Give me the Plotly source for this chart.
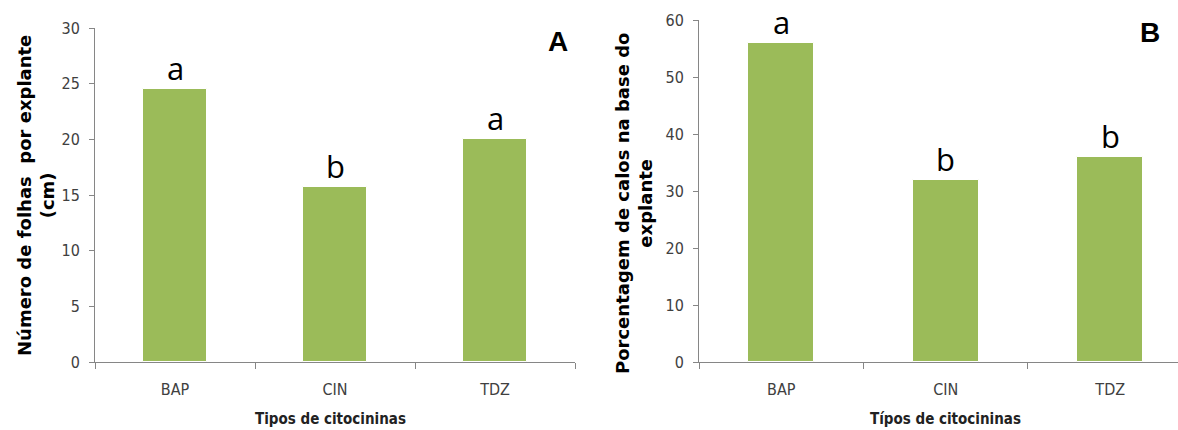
import plotly.graph_objects as go

# Data
categories = ["BAP", "CIN", "TDZ"]
folhas = [24.5, 15.7, 20.0]          # Número de folhas por explante
folhas_letters = ["a", "b", "a"]
calos = [56.0, 32.0, 36.0]           # Porcentagem de calos na base do explante
calos_letters = ["a", "b", "b"]

W, H = 1178, 430
BAR = "#9BBB59"
AXIS = "#868686"
TICK_FONT = dict(family="DejaVu Sans Condensed, Arial Narrow, sans-serif", size=16, color="#404040")
TITLE_FONT = dict(family="Verdana, DejaVu Sans, sans-serif", size=18, color="black", weight="bold")
NARROW_BOLD = dict(family="DejaVu Sans Condensed, Arial Narrow, sans-serif", size=15, color="#222", weight="bold")
LETTER_FONT = dict(family="Open Sans, Calibri, sans-serif", size=31, color="black")


def px(x):
    return x / W


def py(y):
    return 1 - y / H


fig = go.Figure()
fig.add_trace(go.Bar(x=categories, y=folhas, width=0.4, marker=dict(color=BAR, line=dict(color="white", width=1)),
                     xaxis="x", yaxis="y", showlegend=False, hoverinfo="skip"))
fig.add_trace(go.Bar(x=categories, y=calos, width=0.4, marker=dict(color=BAR, line=dict(color="white", width=1)),
                     xaxis="x2", yaxis="y2", showlegend=False, hoverinfo="skip"))

common_x = dict(type="category", showline=True, linecolor=AXIS, linewidth=1, ticks="outside",
                tickson="boundaries", ticklen=6, tickcolor=AXIS, tickfont=TICK_FONT,
                ticklabelstandoff=13, showgrid=False, zeroline=False, fixedrange=True, automargin=False)
common_y = dict(showline=True, linecolor=AXIS, linewidth=1, ticks="outside", ticklen=5, tickcolor=AXIS,
                tickfont=TICK_FONT, ticklabelstandoff=6, showgrid=False, zeroline=False, fixedrange=True,
                automargin=False)

fig.update_layout(
    width=W, height=H,
    margin=dict(l=0, r=0, t=0, b=0, autoexpand=False),
    paper_bgcolor="white", plot_bgcolor="white",
    bargap=0,
    xaxis=dict(domain=[px(95), px(575)], range=[-0.5, 2.5], anchor="y", **common_x),
    yaxis=dict(domain=[py(362), py(28)], range=[0, 30], dtick=5, anchor="x", **common_y),
    xaxis2=dict(domain=[px(699), 1.0], range=[-0.5, 2.412], anchor="y2", **common_x),
    yaxis2=dict(domain=[py(362), py(20)], range=[0, 60], dtick=10, anchor="x2", **common_y),
)

annotations = []
# significance letters above the bars
for cat, val, lt in zip(categories, folhas, folhas_letters):
    annotations.append(dict(x=cat, y=val, xref="x", yref="y", text=lt, showarrow=False,
                            yanchor="bottom", yshift=-2, font=LETTER_FONT))
for cat, val, lt in zip(categories, calos, calos_letters):
    annotations.append(dict(x=cat, y=val, xref="x2", yref="y2", text=lt, showarrow=False,
                            yanchor="bottom", yshift=-2, font=LETTER_FONT))

# axis titles
annotations += [
    dict(x=px(36), y=py(196), xref="paper", yref="paper", text="Número de folhas  por explante<br>(cm)",
         textangle=-90, showarrow=False, font=TITLE_FONT, xanchor="center", yanchor="middle"),
    dict(x=px(634), y=py(204), xref="paper", yref="paper", text="Porcentagem de calos na base do<br>explante",
         textangle=-90, showarrow=False, font=TITLE_FONT, xanchor="center", yanchor="middle"),
    dict(x=px(330), y=py(419), xref="paper", yref="paper", text="Tipos de citocininas",
         showarrow=False, font=NARROW_BOLD, xanchor="center", yanchor="middle"),
    dict(x=px(945), y=py(419), xref="paper", yref="paper", text="Típos de citocininas",
         showarrow=False, font=NARROW_BOLD, xanchor="center", yanchor="middle"),
    # panel labels
    dict(x=px(558), y=py(41), xref="paper", yref="paper", text="A", showarrow=False,
         font=dict(family="Liberation Sans, Arial, sans-serif", size=28, color="black", weight="bold"),
         xanchor="center", yanchor="middle"),
    dict(x=px(1150), y=py(32), xref="paper", yref="paper", text="B", showarrow=False,
         font=dict(family="Liberation Sans, Arial, sans-serif", size=28, color="black", weight="bold"),
         xanchor="center", yanchor="middle"),
]
fig.update_layout(annotations=annotations)

fig.write_html("out.html")
